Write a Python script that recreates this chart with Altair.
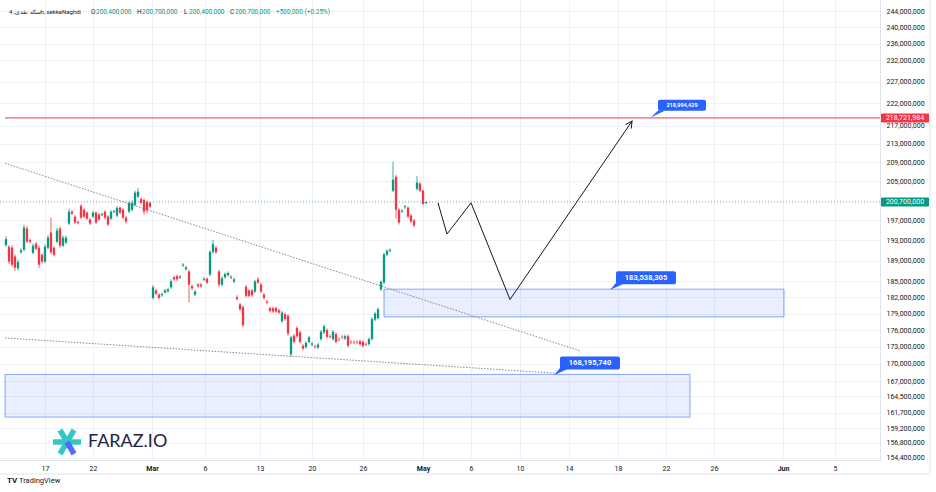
import altair as alt
import pandas as pd

# ---------------- data (prices in millions of IRR, 4h bars) ----------------
opens = [192.0, 191.7, 191.5, 189.8, 187.5, 190.6, 191.1, 195.3, 193.0, 190.5,
         192.3, 191.5, 190.1, 188.8, 191.5, 194.5, 191.5, 192.7, 195.3, 191.9,
         192.5, 196.3, 198.7, 197.7, 196.6, 199.9, 199.1, 198.5, 197.1, 197.7,
         198.5, 198.1, 198.0, 198.7, 197.7, 197.3, 198.6, 197.9, 199.5, 199.1,
         197.5, 198.7, 199.1, 200.1, 201.8, 201.3, 201.1, 200.7, 200.5,
         181.9, 183.3, 182.5, 182.4, 182.9, 183.1, 183.9, 185.8, 186.0, 185.7,
         188.0, 187.3, 186.9, 184.1, 182.5, 184.4, 184.4, 185.3, 185.5, 186.3,
         190.7, 191.5, 186.9, 184.4, 185.8, 186.2, 185.9, 185.0, 182.0, 180.7,
         180.2, 184.0, 183.3, 183.3, 183.1, 185.4, 184.4, 182.5, 181.2, 180.0,
         180.0, 180.0, 179.6, 177.6, 178.9, 178.6, 171.7, 175.0, 176.4, 175.6,
         173.2, 173.0, 173.9, 173.4, 173.1, 172.9, 174.4, 175.6, 176.0, 174.9,
         174.4, 175.3, 174.4, 174.8, 174.5, 174.9, 173.9, 173.9, 173.9, 174.0,
         173.9, 173.5, 173.5, 174.4, 177.9, 178.2, 183.5, 184.8, 190.1, 190.9,
         203.0, 205.9, 199.1, 198.7, 199.6, 199.5, 197.9, 196.9, 203.4, 204.5,
         203.0, 200.4]
highs = [193.8, 192.0, 192.0, 190.2, 189.2, 191.4, 196.0, 195.8, 193.3, 192.3,
         192.6, 191.9, 190.4, 192.2, 194.0, 197.5, 191.8, 195.4, 195.7, 193.9,
         193.9, 199.3, 199.0, 198.0, 196.9, 200.2, 199.4, 198.8, 197.4, 198.8,
         198.8, 198.4, 198.5, 199.0, 198.0, 199.0, 199.1, 199.8, 199.8, 199.4,
         197.8, 200.8, 201.0, 203.0, 203.6, 201.6, 201.4, 201.0, 200.8,
         184.3, 183.6, 182.8, 182.9, 183.6, 183.8, 185.4, 186.1, 186.3, 186.2,
         188.5, 188.0, 187.2, 184.4, 183.4, 184.7, 184.7, 185.8, 185.8, 191.0,
         193.0, 191.8, 187.2, 186.0, 186.7, 186.9, 186.2, 185.7, 182.4, 181.0,
         180.5, 184.3, 183.6, 183.6, 185.3, 185.8, 184.8, 182.8, 181.5, 180.3,
         180.3, 180.3, 179.9, 179.5, 179.2, 178.9, 175.0, 175.3, 176.7, 175.9,
         173.5, 174.0, 175.0, 173.9, 173.4, 173.7, 176.0, 177.0, 176.3, 175.2,
         176.0, 175.6, 174.7, 175.1, 175.2, 175.2, 174.2, 174.2, 174.2, 174.3,
         174.2, 173.8, 174.7, 178.3, 179.3, 180.1, 185.2, 190.5, 191.2, 191.4,
         209.1, 206.3, 199.4, 199.2, 200.1, 199.8, 198.2, 197.2, 206.1, 204.8,
         203.3, 200.7]
lows = [191.6, 188.3, 187.8, 187.0, 187.1, 190.3, 190.8, 192.4, 192.3, 190.2,
        191.0, 187.6, 188.4, 188.5, 191.2, 190.2, 189.8, 192.4, 191.5, 191.6,
        192.2, 196.0, 198.0, 196.2, 196.1, 197.2, 197.4, 197.0, 196.0, 197.4,
        196.2, 196.8, 197.8, 197.2, 195.8, 197.0, 198.4, 197.6, 198.2, 197.2,
        196.3, 198.4, 198.8, 199.8, 201.5, 200.2, 198.1, 198.4, 199.4,
        181.6, 182.4, 181.6, 182.1, 182.7, 182.9, 183.6, 185.1, 185.1, 185.5,
        187.8, 187.1, 181.1, 183.4, 182.2, 183.8, 183.8, 185.1, 184.5, 186.0,
        190.3, 190.3, 184.0, 184.1, 185.5, 185.9, 185.4, 184.7, 181.4, 179.5,
        176.5, 182.0, 182.0, 182.1, 182.8, 184.5, 182.8, 181.6, 180.7, 179.2,
        179.1, 179.1, 178.9, 177.3, 177.7, 175.0, 171.3, 173.6, 174.6, 173.6,
        172.4, 172.7, 173.6, 173.1, 172.7, 172.6, 174.1, 175.3, 174.5, 174.5,
        174.1, 173.6, 174.0, 174.4, 174.2, 172.9, 173.5, 173.5, 173.5, 173.2,
        172.9, 173.1, 173.2, 174.1, 177.6, 177.9, 183.2, 184.5, 189.8, 190.6,
        202.7, 197.3, 196.1, 198.4, 199.3, 197.4, 196.4, 195.6, 203.0, 202.7,
        200.0, 200.4]
closes = [193.2, 188.8, 188.2, 187.6, 188.7, 191.0, 195.5, 192.7, 192.7, 191.9,
          191.3, 188.2, 188.8, 191.7, 193.5, 190.6, 190.1, 194.9, 191.9, 193.5,
          193.5, 198.7, 198.3, 196.5, 196.4, 197.5, 197.7, 197.3, 196.3, 198.5,
          196.5, 197.1, 198.2, 197.5, 196.1, 198.7, 198.8, 199.5, 198.5, 197.5,
          196.7, 200.5, 200.5, 202.6, 202.8, 200.5, 198.7, 199.0, 199.7,
          183.9, 182.7, 181.9, 182.6, 183.3, 183.5, 185.0, 185.4, 185.4, 185.9,
          188.2, 187.7, 184.4, 183.7, 183.1, 184.1, 184.1, 185.5, 184.8, 190.7,
          192.2, 190.6, 184.4, 185.6, 186.4, 186.6, 185.7, 185.4, 181.7, 179.8,
          176.9, 182.3, 182.3, 182.4, 185.0, 184.8, 183.1, 181.9, 181.0, 179.5,
          179.4, 179.4, 179.2, 179.2, 178.0, 175.4, 174.7, 173.9, 174.9, 173.9,
          172.7, 173.7, 174.7, 173.6, 173.0, 173.4, 175.7, 176.7, 174.8, 174.8,
          175.7, 173.9, 174.3, 174.7, 174.9, 173.2, 173.8, 173.8, 173.8, 173.5,
          173.2, 173.4, 174.4, 178.0, 179.0, 179.8, 184.9, 190.2, 190.9, 191.1,
          205.3, 199.1, 196.5, 198.9, 199.8, 197.7, 196.7, 195.9, 204.7, 203.0,
          200.3, 200.7]

# date axis (positions in bar units) and labels
tick_pos = [13.0, 29.0, 48.67, 66.33, 84.67, 102.0, 119.0, 139.0, 155.0,
            171.33, 187.67, 204.0, 220.0, 236.0, 259.0, 276.33]
tick_text = ["17", "22", "Mar", "6", "13", "20", "26", "May", "6",
             "10", "14", "18", "22", "26", "Jun", "5"]
month_pos = [48.67, 139.0, 259.0]

# price axis labels (millions)
price_ticks = [244, 240, 236, 232, 227, 222, 217, 213, 209, 205, 197, 193, 189,
               185, 182, 179, 176, 173, 170, 167, 164.5, 161.7, 159.2, 156.8, 154.4]

# drawings
zone_x1 = [126.0, -0.33]
zone_x2 = [259.33, 228.0]
zone_top = [183.538305, 168.19574]
zone_bottom = [178.4, 161.0]

trend_x1 = [-0.33, -0.33]
trend_y1 = [208.8, 174.6]
trend_x2 = [191.33, 183.33]
trend_y2 = [172.3, 168.4]

path_x = [144.0, 147.0, 155.0, 168.0, 208.67]
path_y = [200.5, 194.2, 200.5, 181.6, 218.0]

callout_x = [201.67, 183.0]
callout_y = [183.538305, 168.19574]
small_callout_x = [215.33]
small_callout_y = [218.994429]

resistance_start = -0.33
resistance_price = 218.721984
last_price = 200.7

header_title = "سکه نقدی, 4h, sekkeNaghdi"
ohlc_names = ["O", "H", "L", "C"]
ohlc_values = [200_400_000, 200_700_000, 200_400_000, 200_700_000]
change_text = "+500,000 (+0.25%)"

# ---------------- build ----------------
M = 1_000_000
n = len(opens)
candles = pd.DataFrame({
    "bar": list(range(n)),
    "open": [v * M for v in opens],
    "high": [v * M for v in highs],
    "low": [v * M for v in lows],
    "close": [v * M for v in closes],
    "dir": ["up" if c >= o else "down" for o, c in zip(opens, closes)],
})

UP, DOWN = "#089981", "#f23645"
BLUE = "#2962ff"
GRID = "#eef1f6"
TEXT = "#131722"
FONT = "Roboto"

xs = alt.Scale(domain=[-2, 291.333], nice=False, zero=False, padding=0)
ys = alt.Scale(type="log", domain=[154.08 * M, 246.8 * M], nice=False, zero=False, padding=0)
cscale = alt.Scale(domain=["up", "down"], range=[UP, DOWN])

arr_pos = "[" + ",".join(str(v) for v in tick_pos) + "]"
arr_txt = "[" + ",".join("'" + t + "'" for t in tick_text) + "]"
arr_month = "[" + ",".join(str(v) for v in month_pos) + "]"

x_axis = alt.Axis(values=tick_pos, labelExpr=f"{arr_txt}[indexof({arr_pos}, datum.value)]",
                  grid=True, gridColor=GRID, ticks=False, domain=True, domainColor="#e0e3eb",
                  labelFontSize=7, labelColor=TEXT, labelFont=FONT, labelPadding=4,
                  labelOverlap=False, labelFlush=False, title=None,
                  labelFontWeight={"condition": {"test": f"indexof({arr_month}, datum.value) >= 0",
                                                 "value": "bold"}, "value": "normal"})
y_axis = alt.Axis(orient="right", values=[v * M for v in price_ticks], format=",.0f",
                  grid=True, gridColor=GRID, ticks=False, domain=True, domainColor="#e0e3eb",
                  labelFontSize=7, labelColor=TEXT, labelFont=FONT, labelPadding=6,
                  labelOverlap=False, labelFlush=False, title=None)


def X(field):
    return alt.X(field, scale=xs, axis=x_axis)


def Y(field):
    return alt.Y(field, scale=ys, axis=y_axis)


wicks = alt.Chart(candles).mark_rule(strokeWidth=0.8).encode(
    x=X("bar:Q"), y=Y("low:Q"), y2="high:Q",
    color=alt.Color("dir:N", scale=cscale, legend=None),
)
bodies = alt.Chart(candles).mark_bar(size=2.3).encode(
    x=X("bar:Q"), y=Y("open:Q"), y2="close:Q",
    color=alt.Color("dir:N", scale=cscale, legend=None),
)

zones_df = pd.DataFrame({"x1": zone_x1, "x2": zone_x2,
                         "top": [v * M for v in zone_top], "bot": [v * M for v in zone_bottom]})
zones = alt.Chart(zones_df).mark_rect(fill=BLUE, fillOpacity=0.1, stroke=BLUE,
                                      strokeOpacity=0.55, strokeWidth=1).encode(
    x=X("x1:Q"), x2="x2:Q", y=Y("top:Q"), y2="bot:Q",
)

trend_df = pd.DataFrame({"x1": trend_x1, "x2": trend_x2,
                         "y1": [v * M for v in trend_y1], "y2": [v * M for v in trend_y2]})
trends = alt.Chart(trend_df).mark_rule(color="#787b86", strokeWidth=0.9, strokeDash=[1.5, 1.5]).encode(
    x=X("x1:Q"), x2="x2:Q", y=Y("y1:Q"), y2="y2:Q",
)

path_df = pd.DataFrame({"step": list(range(len(path_x))), "x": path_x, "y": [v * M for v in path_y]})
path = alt.Chart(path_df).mark_line(color=TEXT, strokeWidth=1).encode(
    x=X("x:Q"), y=Y("y:Q"), order="step:Q",
)
arrow = alt.Chart(path_df.tail(1)).mark_point(
    shape="M -0.7 1.3 L 0 0 L 0.7 1.3", size=100, filled=False, stroke=TEXT,
    strokeWidth=1, angle=34, opacity=1).encode(x=X("x:Q"), y=Y("y:Q"))

res_df = pd.DataFrame({"x": [resistance_start], "p": [resistance_price * M]})
res_line = alt.Chart(res_df).mark_rule(color=DOWN, strokeWidth=1).encode(
    x=X("x:Q"), x2=alt.value(880), y=Y("p:Q"),
)
last_df = pd.DataFrame({"p": [last_price * M]})
last_line = alt.Chart(last_df).mark_rule(color=UP, strokeWidth=1, strokeDash=[1, 2],
                                         opacity=0.7).encode(
    x=alt.value(0), x2=alt.value(880), y=Y("p:Q"),
)


def price_tag(df, color):
    box = alt.Chart(df).mark_rect(color=color, yOffset=-4.5, y2Offset=4.5, cornerRadius=1).encode(
        x=alt.value(881), x2=alt.value(929), y=Y("p:Q"), y2="p:Q",
    )
    txt = alt.Chart(df).mark_text(color="white", fontSize=7, font=FONT, align="center",
                                  baseline="middle").encode(
        x=alt.value(905), y=Y("p:Q"), text=alt.Text("p:Q", format=",.0f"),
    )
    return [box, txt]


callout_df = pd.DataFrame({"x": callout_x, "y": [v * M for v in callout_y]})
small_df = pd.DataFrame({"x": small_callout_x, "y": [v * M for v in small_callout_y]})


def callouts(df, dx1, dx2, dy1, dy2, fsize, ptr):
    box = alt.Chart(df).mark_rect(color=BLUE, xOffset=dx1, x2Offset=dx2, yOffset=dy1,
                                  y2Offset=dy2, cornerRadius=2).encode(
        x=X("x:Q"), x2="x:Q", y=Y("y:Q"), y2="y:Q")
    pointer = alt.Chart(df).mark_point(shape=ptr, size=144, filled=True, fill=BLUE,
                                       stroke=BLUE, strokeWidth=0.5, opacity=1).encode(
        x=X("x:Q"), y=Y("y:Q"))
    txt = alt.Chart(df).mark_text(color="white", fontSize=fsize, fontWeight="bold", font=FONT,
                                  align="center", baseline="middle",
                                  dx=(dx1 + dx2) / 2, dy=(dy1 + dy2) / 2).encode(
        x=X("x:Q"), y=Y("y:Q"), text=alt.Text("y:Q", format=",.0f"))
    return [box, pointer, txt]


one = pd.DataFrame({"k": [0]})


def label(txt, x, y, size, color, weight="normal", font=FONT, align="left"):
    return alt.Chart(one).mark_text(text=txt, align=align, baseline="middle", fontSize=size,
                                    color=color, fontWeight=weight, font=font).encode(
        x=alt.value(x), y=alt.value(y))


def seg(x1, y1, x2, y2, color, w, cap="butt"):
    return alt.Chart(one).mark_rule(color=color, strokeWidth=w, strokeCap=cap).encode(
        x=alt.value(x1), y=alt.value(y1), x2=alt.value(x2), y2=alt.value(y2))


header = [label(header_title, 9, 12, 6, TEXT)]
hx = [91, 137, 184, 230]
for nm, val, x0 in zip(ohlc_names, ohlc_values, hx):
    header.append(label(nm, x0, 12, 6.5, TEXT))
    header.append(label(f"{val:,}", x0 + 5, 12, 6.5, UP))
header.append(label(change_text, 276, 12, 6.5, UP))

logo = [
    seg(53, 442, 81, 442, "#37c6c8", 5.5),
    seg(74, 430, 67, 442, "#37c6c8", 5.5),
    seg(67, 442, 60, 454, "#37c6c8", 5.5),
    seg(60, 430, 67, 442, "#37c6c8", 5.5),
    seg(67, 442, 74, 454, "#4f6ef7", 5.5),
    label("FARAZ.IO", 88, 442, 18, "#1d2445", font="Lato"),
]

frame = [
    seg(0, 474, 930, 474, "#e0e3eb", 1),
    seg(930, 0, 930, 474, "#e0e3eb", 1),
]

footer = [
    label("TV", 7, 481, 8, TEXT, weight="bold"),
    label("TradingView", 19, 481, 7.5, TEXT),
]

layers = [wicks, bodies, zones, trends, last_line, res_line, path, arrow]
layers += price_tag(res_df[["p"]], DOWN)
layers += price_tag(last_df, UP)
layers += callouts(callout_df, 5, 65, -18, -5, 7.5, "M 0 0 L 0.8 -1 L 2.2 -1 Z")
layers += callouts(small_df, 6, 54, -17, -6, 5.5, "M 0 0 L 1 -1 L 2 -1 Z")
layers += header + logo + frame + footer

chart = alt.layer(*layers).properties(
    width=880, height=460,
    padding={"left": 0, "top": 0, "right": 56, "bottom": 32},
    autosize=alt.AutoSizeParams(type="none"),
    background="white",
).configure(font=FONT).configure_view(stroke=None)

chart.save("out.html", embed_options={"renderer": "svg", "actions": False})
